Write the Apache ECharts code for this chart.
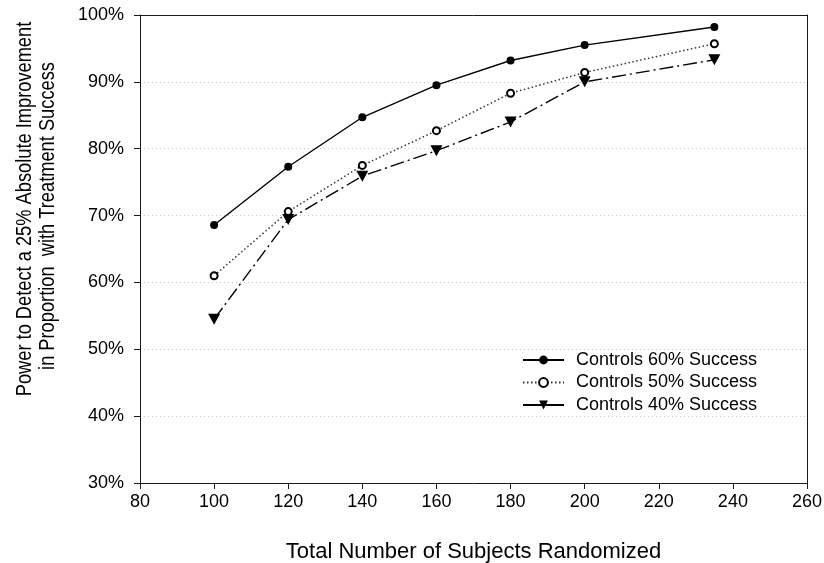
<!DOCTYPE html>
<html>
<head>
<meta charset="utf-8">
<script src="https://cdn.jsdelivr.net/npm/echarts@6/dist/echarts.min.js"></script>
<style>html,body{margin:0;padding:0;background:#fff}#c{width:824px;height:563px}</style>
</head>
<body>
<div id="c"></div>
<script>
var subjects = [100, 120, 140, 160, 180, 200, 235];
var controls60 = [68.6, 77.3, 84.7, 89.5, 93.2, 95.5, 98.2];
var controls50 = [61.0, 70.6, 77.5, 82.7, 88.3, 91.4, 95.7];
var controls40 = [54.5, 69.4, 75.9, 79.7, 84.0, 90.0, 93.3];
var seriesNames = ['Controls 60% Success', 'Controls 50% Success', 'Controls 40% Success'];
var xTitle = 'Total Number of Subjects Randomized';
var yTitle1 = 'Power to Detect a 25% Absolute Improvement';
var yTitle2 = 'in Proportion  with Treatment Success';

function pairs(vals) { return subjects.map(function (x, i) { return [x, vals[i]]; }); }

var FONT = 'Liberation Sans, Arial, sans-serif';
var AX = '#1a1a1a';
var chart = echarts.init(document.getElementById('c'), null, {renderer: 'canvas'});
chart.setOption({
  animation: false,
  backgroundColor: '#fff',
  textStyle: {fontFamily: FONT},
  grid: {left: 140, top: 15, right: 17, bottom: 80, show: false, containLabel: false, outerBoundsMode: 'none'},
  xAxis: [{
    type: 'value', min: 80, max: 260, interval: 20,
    name: xTitle, nameLocation: 'middle', nameGap: 58,
    nameTextStyle: {fontSize: 22, color: '#000', fontFamily: FONT},
    axisLine: {show: true, lineStyle: {color: AX, width: 1}},
    axisTick: {show: true, length: 6, inside: false, lineStyle: {color: AX}},
    axisLabel: {fontSize: 18, color: '#000', margin: 10, fontFamily: FONT},
    splitLine: {show: false}
  }, {
    type: 'value', position: 'top', min: 80, max: 260, interval: 20,
    axisLine: {show: true, lineStyle: {color: AX, width: 1}},
    axisTick: {show: false}, axisLabel: {show: false}, splitLine: {show: false}
  }],
  yAxis: [{
    type: 'value', min: 30, max: 100, interval: 10,
    axisLine: {show: true, lineStyle: {color: AX, width: 1}},
    axisTick: {show: true, length: 6, inside: false, lineStyle: {color: AX}},
    axisLabel: {fontSize: 18, color: '#000', margin: 16, fontFamily: FONT, formatter: '{value}%'},
    splitLine: {show: true, lineStyle: {color: '#c8c8c8', width: 1, type: [1, 3]}}
  }, {
    type: 'value', position: 'right', min: 30, max: 100, interval: 10,
    axisLine: {show: true, lineStyle: {color: AX, width: 1}},
    axisTick: {show: false}, axisLabel: {show: false}, splitLine: {show: false}
  }],
  legend: {
    orient: 'vertical', left: 517, top: 346,
    itemWidth: 41, itemHeight: 11, itemGap: 4.5,
    textStyle: {fontSize: 18, color: '#000', fontFamily: FONT, padding: [0, 0, 0, 7]},
    data: [
      {name: seriesNames[0]},
      {name: seriesNames[1]},
      {name: seriesNames[2], lineStyle: {type: 'solid'}}
    ]
  },
  graphic: [
    {type: 'text', x: 25, y: 209, rotation: Math.PI / 2, scaleX: 0.83,
     style: {text: yTitle1, fontSize: 22, fontFamily: FONT, fill: '#000', textAlign: 'center', textVerticalAlign: 'middle'}},
    {type: 'text', x: 47.5, y: 216, rotation: Math.PI / 2, scaleX: 0.83,
     style: {text: yTitle2, fontSize: 22, fontFamily: FONT, fill: '#000', textAlign: 'center', textVerticalAlign: 'middle'}}
  ],
  series: [
    {
      name: seriesNames[0], type: 'line', data: pairs(controls60),
      symbol: 'circle', symbolSize: 8,
      lineStyle: {color: '#000', width: 1.4, type: 'solid'},
      itemStyle: {color: '#000', borderColor: '#000', borderWidth: 0}
    },
    {
      name: seriesNames[1], type: 'line', data: pairs(controls50),
      symbol: 'emptyCircle', symbolSize: 7,
      lineStyle: {color: '#333', width: 1.5, type: [1.5, 2.5]},
      itemStyle: {color: '#000', borderColor: '#000', borderWidth: 1}
    },
    {
      name: seriesNames[2], type: 'line', data: pairs(controls40),
      symbol: 'triangle', symbolSize: [12, 11], symbolRotate: 180,
      lineStyle: {color: '#000', width: 1.4, type: [14, 4, 2, 4]},
      itemStyle: {color: '#000', borderColor: '#000', borderWidth: 0}
    }
  ]
});
</script>
</body>
</html>
